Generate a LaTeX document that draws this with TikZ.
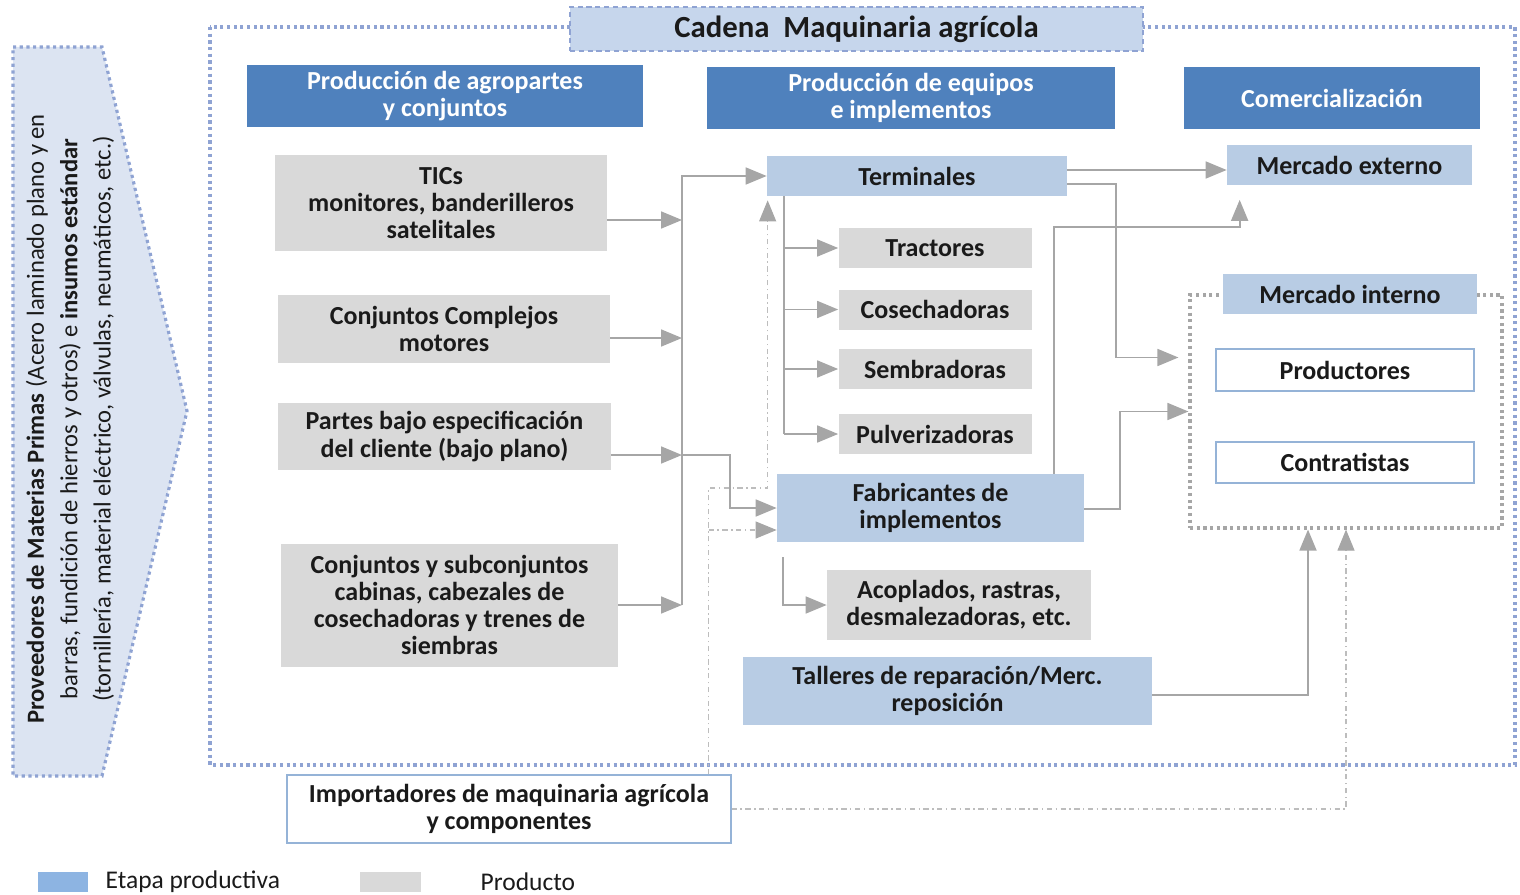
\documentclass[tikz,border=0pt]{standalone}
\usepackage{fontspec}
\setmainfont{Carlito}
\usepackage{tikz}
\usetikzlibrary{arrows.meta, positioning, calc}
\definecolor{hdrBlue}{HTML}{4F81BD}
\definecolor{stageBlue}{HTML}{B8CCE4}
\definecolor{prodGray}{HTML}{D9D9D9}
\definecolor{legBlue}{HTML}{8DB4E2}
\definecolor{inkOne}{HTML}{1A1A1A}
\definecolor{lineGray}{HTML}{A6A6A6}
\definecolor{dashGray}{HTML}{BDBDBD}
\definecolor{frameBlue}{HTML}{8FA3D3}
\definecolor{arrowFill}{HTML}{DCE4F2}
\definecolor{titleFill}{HTML}{C6D6EC}
\definecolor{wbBorder}{HTML}{95B3D7}
\tikzset{
  boxfont/.style={font=\fontsize{14.8}{15.5}\selectfont\bfseries, text=inkOne, align=center},
  hdr/.style={boxfont, fill=hdrBlue, text=white, inner sep=0pt},
  stage/.style={boxfont, fill=stageBlue, inner sep=0pt},
  prod/.style={boxfont, fill=prodGray, inner sep=0pt},
  wbox/.style={boxfont, draw=wbBorder, line width=0.7pt, fill=white, inner sep=0pt},
  ttlbox/.style={boxfont, font=\fontsize{17.5}{19}\selectfont\bfseries, fill=titleFill, draw=frameBlue,
    line width=0.7pt, dash pattern=on 3pt off 2pt, inner sep=0pt},
  arr/.style={-{Triangle[length=0.42cm, width=0.34cm, color=lineGray]}, draw=lineGray, line width=1pt},
  link/.style={draw=lineGray, line width=1pt},
  imp/.style={-{Triangle[length=0.42cm, width=0.34cm, color=lineGray]}, draw=dashGray, line width=0.6pt,
    dash pattern=on 3pt off 2pt on 0.8pt off 2pt},
  frame/.style={draw=frameBlue, line width=1.8pt, dash pattern=on 1.8pt off 2pt},
  mframe/.style={draw=lineGray, line width=1.8pt, dash pattern=on 1.8pt off 2pt, inner sep=0pt},
  legtxt/.style={font=\fontsize{14.5}{15.5}\selectfont, text=inkOne, inner sep=0pt},
}

\begin{document}
\begin{tikzpicture}[x=0.02cm, y=-0.02cm]
  \useasboundingbox (0,0) rectangle (1520,895);
  % \bxn{style}{name}{x,y}{width}{height}{text}, sizes in px
  \newcommand{\bxn}[6]{\node[#1, minimum width=#4*0.02cm, minimum height=#5*0.02cm] (#2) at (#3) {#6};}
  % ---- frames
  \draw[frame] (210,27) rectangle (1515,765);
  \node[mframe, minimum width=312*0.02cm, minimum height=233*0.02cm] (mfr) at (1346,411.5) {};
  % ---- suppliers arrow on the left
  \draw[frame, fill=arrowFill] (13,47) -- (102,47) -- (187,411) -- (102,776) -- (13,776) -- cycle;
  \node[rotate=90, align=center, font=\fontsize{14}{19}\selectfont, text=inkOne] (prov) at (70,419)
    {\textbf{Proveedores de Materias Primas} (Acero laminado plano y en\\
     barras, fundición de hierros y otros) e \textbf{insumos estándar}\\
     (tornillería, material eléctrico, válvulas, neumáticos, etc.)};
  % ---- title and column headers
  \bxn{ttlbox}{ttl}{856.5,29}{573}{44}{Cadena\ \ Maquinaria agrícola}
  \bxn{hdr}{hdrA}{445,96}{396}{62}{Producción de agropartes\\y conjuntos}
  \bxn{hdr}{hdrB}{911,98}{408}{62}{Producción de equipos\\e implementos}
  \bxn{hdr}{hdrC}{1332,98}{296}{62}{Comercialización}
  % ---- agroparts
  \bxn{prod}{tics}{441,203}{332}{96}{TICs\\monitores, banderilleros\\satelitales}
  \bxn{prod}{ccomp}{444,329}{332}{68}{Conjuntos Complejos\\motores}
  \bxn{prod}{partes}{444.5,436.5}{333}{67}{Partes bajo especificación\\del cliente (bajo plano)}
  \bxn{prod}{csub}{449.5,605}{337}{123}{Conjuntos y subconjuntos\\cabinas, cabezales de\\cosechadoras y trenes de\\siembras}
  % ---- equipment
  \bxn{stage}{term}{917,176}{300}{40}{Terminales}
  \bxn{prod}{tract}{935,248}{193}{40}{Tractores}
  \bxn{prod}{cosech}{935,309.5}{193}{40}{Cosechadoras}
  \bxn{prod}{siemb}{935,369}{193}{40}{Sembradoras}
  \bxn{prod}{pulv}{935,434}{193}{40}{Pulverizadoras}
  \bxn{stage}{fab}{930.5,508}{307}{68}{Fabricantes de\\implementos}
  \bxn{prod}{acop}{959,605}{264}{70}{Acoplados, rastras,\\desmalezadoras, etc.}
  \bxn{stage}{talle}{947.5,691}{409}{68}{Talleres de reparación/Merc.\\reposición}
  % ---- markets
  \bxn{stage}{mext}{1349.5,165.5}{245}{40}{Mercado externo}
  \bxn{stage}{mint}{1350,294}{254}{40}{Mercado interno}
  \bxn{wbox}{prodr}{1345,370}{258}{42}{Productores}
  \bxn{wbox}{contr}{1345,462.5}{258}{41}{Contratistas}
  \bxn{wbox}{impo}{509,809}{444}{68}{Importadores de maquinaria agrícola\\y componentes}
  % ---- agroparts into the bus, bus up to terminales
  \coordinate (busX) at (682,0);
  \coordinate (ticsOut) at ($(tics.east)+(0,17)$);
  \coordinate (ccompOut) at ($(ccomp.east)+(0,9)$);
  \coordinate (partesOut) at ($(partes.east)+(0,18.5)$);
  \foreach \p in {ticsOut, ccompOut, partesOut, csub.east}
    \draw[arr] (\p) -- (\p -| busX);
  \draw[arr] (csub.east -| busX) |- (term.west);
  \coordinate (fabKnee) at (730,0);
  \draw[arr] (partesOut -| busX) -- (partesOut -| fabKnee) |- (fab.west);
  % ---- terminales and fabricantes to their products
  \coordinate (termDrop) at ($(term.south west)+(17,0)$);
  \draw[link] (termDrop) -- (termDrop |- pulv.west);
  \foreach \b in {tract, cosech, siemb, pulv}
    \draw[arr] (termDrop |- \b.west) -- (\b.west);
  \draw[arr] ($(fab.south west)+(6,15)$) |- (acop.west);
  % ---- to the markets
  \coordinate (termOutA) at ($(term.east)+(0,-6)$);
  \coordinate (termOutB) at ($(term.east)+(0,8)$);
  \draw[arr] (termOutA) -- (termOutA -| mext.west);
  \coordinate (kneeT) at (1116,0);
  \draw[arr, shorten >=0.2cm] (termOutB) -- (termOutB -| kneeT) |- ($(mfr.west)+(0,-54)$);
  \coordinate (fabUp) at ($(fab.north east)+(-30,0)$);
  \coordinate (kneeE) at (0,227);
  \draw[arr, shorten >=0.28cm] (fabUp) -- (fabUp |- kneeE) -| ($(mext.south west)+(13,0)$);
  \coordinate (fabOut) at ($(fab.east)+(0,1)$);
  \coordinate (kneeF) at (1120,0);
  \draw[arr] (fabOut) -- (fabOut -| kneeF) |- (mfr.west);
  \draw[arr] ($(talle.east)+(0,4)$) -| ($(mfr.south)+(-38,0)$);
  % ---- importers (dash-dot)
  \draw[imp] (impo.east) -| (mfr.south);
  \coordinate (impUp) at ($(impo.north east)+(-23,0)$);
  \coordinate (kneeI) at (0,488);
  \draw[imp, shorten >=0.08cm] (impUp) -- (impUp |- kneeI) -| ($(term.south west)+(1,0)$);
  \coordinate (fabIn) at ($(fab.west)+(0,22)$);
  \draw[imp] (fabIn -| impUp) -- (fabIn);
  % ---- legend
  \node[fill=legBlue, minimum width=50*0.02cm, minimum height=20*0.02cm, inner sep=0pt] (legA) at (63,882) {};
  \node[legtxt, right=0.34cm of legA] (legAt) {Etapa productiva};
  \node[fill=prodGray, minimum width=61*0.02cm, minimum height=20*0.02cm, inner sep=0pt] (legB) at (390.5,882) {};
  \node[legtxt, right=1.18cm of legB] (legBt) {Producto};
\end{tikzpicture}
\end{document}
